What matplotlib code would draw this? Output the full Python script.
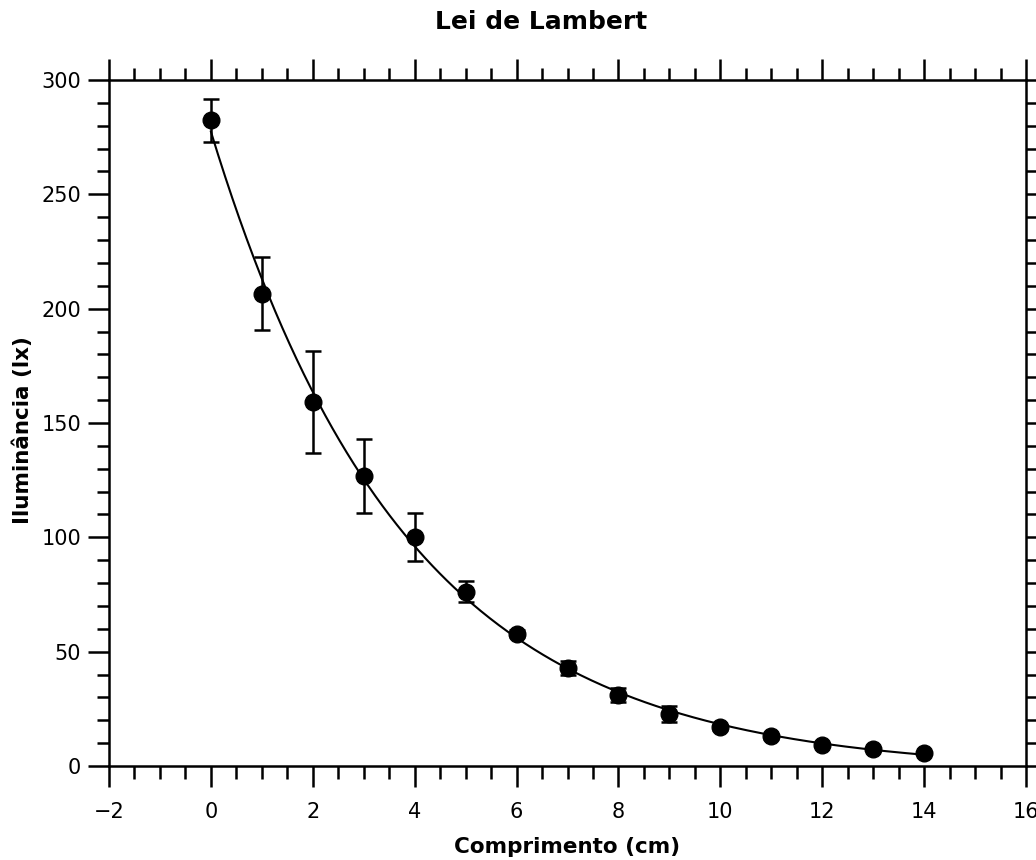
import numpy as np
import matplotlib
matplotlib.use('Agg')
import matplotlib.pyplot as plt
from matplotlib.ticker import MultipleLocator

# data
comprimento = [0, 1, 2, 3, 4, 5, 6, 7, 8, 9, 10, 11, 12, 13, 14]
iluminancia = [282.3, 206.5, 159.2, 127.0, 100.2, 76.3, 57.9, 42.7, 31.1, 22.7, 16.9, 13.0, 9.3, 7.4, 5.7]
erro = [9.4, 16.0, 22.2, 16.2, 10.6, 4.6, 1.5, 3.0, 3.2, 3.4, 1.2, 1.0, 0.8, 0.5, 0.5]

x = np.array(comprimento, dtype=float)
y = np.array(iluminancia)

# exponential fit y0 + A*exp(-k*x), least squares over k
best = None
for k in np.linspace(0.05, 0.8, 3001):
    M = np.column_stack([np.exp(-k * x), np.ones_like(x)])
    coef, res, _, _ = np.linalg.lstsq(M, y, rcond=None)
    r = np.sum((M @ coef - y) ** 2)
    if best is None or r < best[0]:
        best = (r, k, coef)
_, k_fit, (A_fit, y0_fit) = best
xf = np.linspace(x.min(), x.max(), 400)
yf = A_fit * np.exp(-k_fit * xf) + y0_fit

plt.rcParams['font.family'] = ['DejaVu Sans']
fig = plt.figure(figsize=(10.36, 8.6), dpi=100)
ax = fig.add_axes([109 / 1036, 94 / 860, 917 / 1036, 686 / 860])

ax.plot(xf, yf, color='black', lw=1.5, zorder=2)
ax.errorbar(x, y, yerr=erro, fmt='o', color='black', ms=12, elinewidth=1.8,
            capsize=6, capthick=1.8, zorder=3)

ax.set_xlim(-2, 16)
ax.set_ylim(0, 300)
ax.xaxis.set_major_locator(MultipleLocator(2))
ax.xaxis.set_minor_locator(MultipleLocator(0.5))
ax.yaxis.set_major_locator(MultipleLocator(50))
ax.yaxis.set_minor_locator(MultipleLocator(10))

for s in ax.spines.values():
    s.set_linewidth(1.8)
ax.tick_params(which='both', direction='out', top=True, right=True,
               labeltop=False, labelright=False, width=1.8)
ax.tick_params(which='major', length=15)
ax.tick_params(which='minor', length=9)
ax.tick_params(axis='x', which='major', pad=11, labelsize=15)
ax.tick_params(axis='y', which='major', pad=5, labelsize=15)

ax.set_xlabel('Comprimento (cm)', fontsize=15.5, fontweight='bold')
ax.set_ylabel('Iluminância (lx)', fontsize=15.5, fontweight='bold')
ax.xaxis.set_label_coords(0.5, -0.104)
ax.yaxis.set_label_coords(-0.083, 0.49)
ax.set_title('Lei de Lambert', fontsize=18, fontweight='bold',
             x=0.471, y=1.073, va='center')

fig.savefig('out.png', dpi=100)
